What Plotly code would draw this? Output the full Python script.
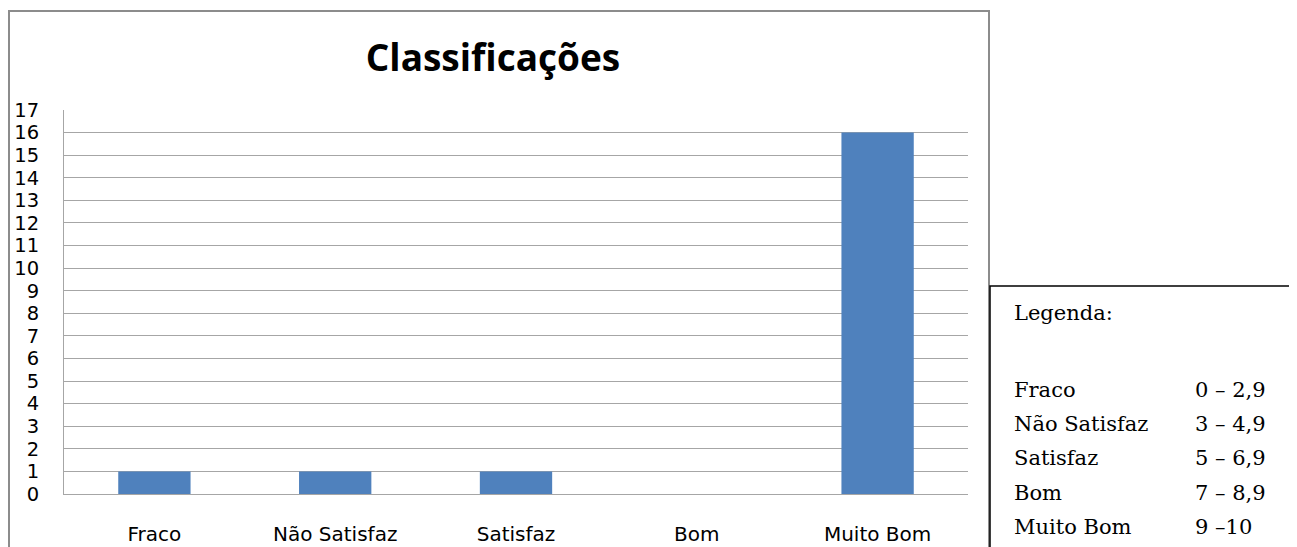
import plotly.graph_objects as go

categories = ["Fraco", "Não Satisfaz", "Satisfaz", "Bom", "Muito Bom"]
counts = [1, 1, 1, 0, 16]
y_ticks = list(range(0, 18))

legend_title = "Legenda:"
legend_names = ["Fraco", "Não Satisfaz", "Satisfaz", "Bom", "Muito Bom"]
legend_ranges = ["0 – 2,9", "3 – 4,9", "5 – 6,9", "7 – 8,9", "9 –10"]

OFF = 8  # default page body margin
W, H = 1297 - OFF, 547 - OFF
PL, PR, PT, PB = 64, 968, 110, 494  # plot area in screen pixels


def px(x):
    return (x - PL) / (PR - PL)


def py(y):
    return (PB - y) / (PB - PT)


fig = go.Figure(go.Bar(
    x=categories, y=counts, marker_color="#4F81BD", marker_line_width=0, width=0.4,
))

fig.update_layout(
    width=W, height=H,
    margin=dict(l=PL - OFF, r=W - (PR - OFF), t=PT - OFF, b=H - (PB - OFF), pad=0),
    paper_bgcolor="white", plot_bgcolor="white",
    showlegend=False,
    title=dict(text="<b>Classificações</b>", x=px(493), xref="paper", xanchor="center",
               y=1 - (58 - OFF) / H, yanchor="middle",
               font=dict(family="Open Sans", size=37, color="black")),
    font=dict(family="DejaVu Sans", color="black"),
)

fig.update_yaxes(
    range=[0, 17], tickvals=y_ticks, showgrid=True, gridcolor="#A6A6A6", gridwidth=1,
    showline=True, linecolor="#A6A6A6", linewidth=1, zeroline=False, automargin=False,
    tickfont=dict(size=19.5, family="DejaVu Sans", color="black"), ticklabelstandoff=20,
    ticks="",
)
fig.update_xaxes(
    showline=True, linecolor="#A6A6A6", linewidth=1, showgrid=False, automargin=False,
    tickfont=dict(size=20, family="DejaVu Sans", color="black"), ticklabelstandoff=22,
    ticks="", range=[-0.5, 4.5],
)

shapes = [
    dict(type="rect", xref="paper", yref="paper", x0=px(9), x1=px(989), y0=py(570), y1=py(11),
         line=dict(color="#8C8C8C", width=2), fillcolor="rgba(0,0,0,0)", layer="below"),
    dict(type="rect", xref="paper", yref="paper", x0=px(990), x1=px(1320), y0=py(570), y1=py(286),
         line=dict(color="black", width=1.5), fillcolor="white"),
]
fig.update_layout(shapes=shapes)

serif = dict(family="DejaVu Serif", size=21, color="black")
annotations = [dict(text=legend_title, xref="paper", yref="paper", x=px(1012), y=py(313),
                    xanchor="left", yanchor="middle", showarrow=False, font=serif)]
row_y = [390, 424, 458, 493, 527]
for name, rng, yy in zip(legend_names, legend_ranges, row_y):
    annotations.append(dict(text=name, xref="paper", yref="paper", x=px(1012), y=py(yy),
                            xanchor="left", yanchor="middle", showarrow=False, font=serif))
    annotations.append(dict(text=rng, xref="paper", yref="paper", x=px(1193), y=py(yy),
                            xanchor="left", yanchor="middle", showarrow=False, font=serif))
fig.update_layout(annotations=annotations)

fig.write_html("out.html")
